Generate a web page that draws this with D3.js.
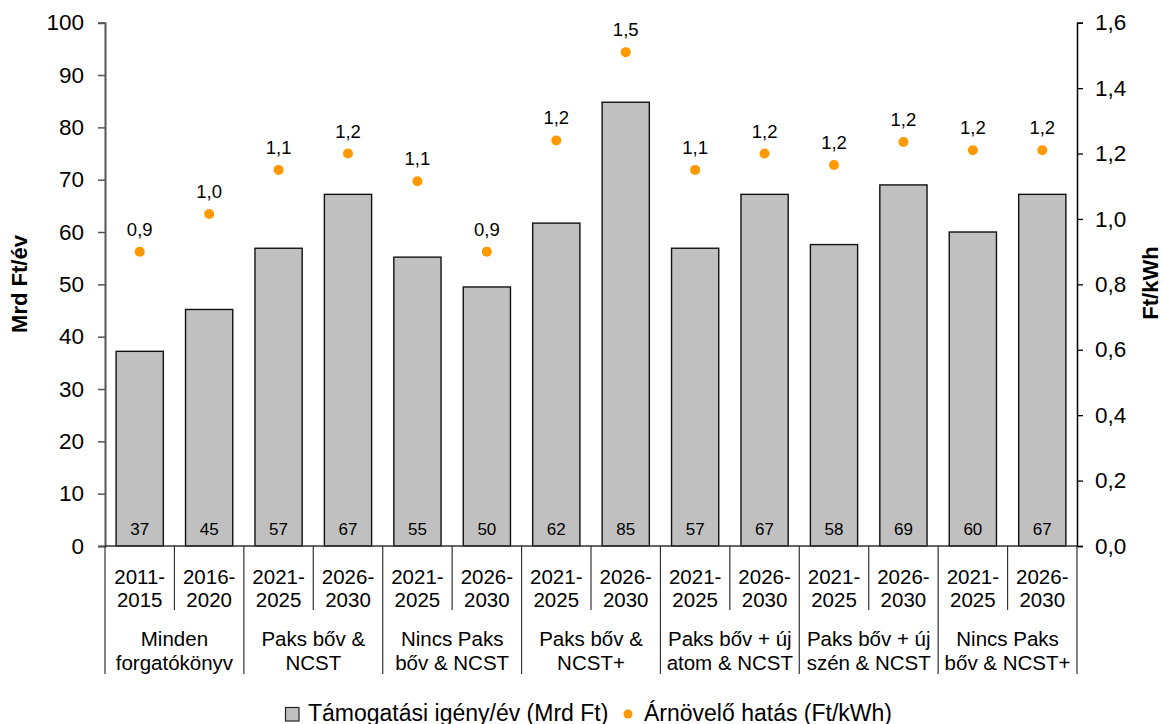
<!DOCTYPE html>
<html><head><meta charset="utf-8">
<script src="https://cdn.jsdelivr.net/npm/d3@7"></script>
<style>body{margin:0;background:#fff}svg{display:block;font-family:"Liberation Sans",Arial,sans-serif}</style>
</head><body><svg id="c" width="1162" height="724"></svg>
<script>
const periods = ["2011-|2015","2016-|2020","2021-|2025","2026-|2030","2021-|2025","2026-|2030","2021-|2025","2026-|2030","2021-|2025","2026-|2030","2021-|2025","2026-|2030","2021-|2025","2026-|2030"];
const groups = ["Minden|forgatókönyv","Paks bőv &|NCST","Nincs Paks|bőv & NCST","Paks bőv &|NCST+","Paks bőv + új|atom & NCST","Paks bőv + új|szén & NCST","Nincs Paks|bőv & NCST+"];
const support = [37.2,45.2,56.9,67.2,55.2,49.5,61.7,84.8,56.9,67.2,57.6,69.0,60.0,67.2];
const supportLabels = ["37","45","57","67","55","50","62","85","57","67","58","69","60","67"];
const priceEffect = [0.90,1.015,1.15,1.20,1.115,0.90,1.24,1.51,1.15,1.20,1.165,1.235,1.21,1.21];
const priceLabels = ["0,9","1,0","1,1","1,2","1,1","0,9","1,2","1,5","1,1","1,2","1,2","1,2","1,2","1,2"];
const leftTicks = [0,10,20,30,40,50,60,70,80,90,100];
const rightTicks = [0,0.2,0.4,0.6,0.8,1.0,1.2,1.4,1.6];
const seriesNames = ["Támogatási igény/év (Mrd Ft)","Árnövelő hatás (Ft/kWh)"];
const axisTitles = ["Mrd Ft/év","Ft/kWh"];

const svg = d3.select("#c");
const L=105, R=1077, T=22.7, B=546;
const idx = d3.range(periods.length);
const x = d3.scaleBand().domain(idx).range([L,R]).paddingInner(0.32).paddingOuter(0.16);
const y = d3.scaleLinear().domain([0,100]).range([B,T]);
const y2 = d3.scaleLinear().domain([0,1.6]).range([B,T]);
const step = x.step();
const FF = "Liberation Sans, Arial, sans-serif";

// bars
svg.append("g").selectAll("rect").data(support).join("rect")
  .attr("x",(d,i)=>x(i)).attr("y",d=>y(d)).attr("width",x.bandwidth()).attr("height",d=>B-y(d))
  .attr("fill","#c0c0c0").attr("stroke","#111").attr("stroke-width",1.4);
svg.append("g").selectAll("text").data(supportLabels).join("text")
  .attr("x",(d,i)=>x(i)+x.bandwidth()/2).attr("y",535).attr("text-anchor","middle")
  .attr("font-size",17).attr("fill","#000").text(d=>d);

// left axis
const la = svg.append("g").attr("transform",`translate(${L},0)`)
  .call(d3.axisLeft(y).tickValues(leftTicks).tickSize(7).tickPadding(14).tickFormat(d3.format("d")));
la.select(".domain").attr("stroke","#555").attr("stroke-width",2);
la.selectAll(".tick line").attr("stroke","#555").attr("stroke-width",1.5);
la.selectAll("text").attr("font-size",22.5).attr("fill","#000").attr("font-family",FF);

// right axis
const ra = svg.append("g").attr("transform",`translate(${R},0)`)
  .call(d3.axisRight(y2).tickValues(rightTicks).tickSize(6).tickPadding(12).tickFormat(d=>d3.format(".1f")(d).replace(".",",")));
ra.select(".domain").attr("stroke","#000").attr("stroke-width",1.5);
ra.selectAll(".tick line").attr("stroke","#000").attr("stroke-width",1.3);
ra.selectAll("text").attr("font-size",22.5).attr("fill","#000").attr("font-family",FF);

// baseline
svg.append("line").attr("x1",L).attr("x2",R).attr("y1",B).attr("y2",B).attr("stroke","#333").attr("stroke-width",1.5);

// category separators
const bounds = d3.range(periods.length+1);
svg.append("g").selectAll("line").data(bounds).join("line")
  .attr("x1",i=>L+i*step).attr("x2",i=>L+i*step).attr("y1",B)
  .attr("y2",i=> i%2===0 ? 674 : 610).attr("stroke","#333").attr("stroke-width",1.2);

// period labels
const pl = svg.append("g").selectAll("text").data(periods).join("text")
  .attr("x",(d,i)=>x(i)+x.bandwidth()/2).attr("text-anchor","middle").attr("font-size",20.5).attr("fill","#000");
pl.each(function(d){const s=d3.select(this);d.split("|").forEach((t,k)=>s.append("tspan").attr("x",s.attr("x")).attr("y",583.5+k*23.5).text(t));});

// group labels
const gl = svg.append("g").selectAll("text").data(groups).join("text")
  .attr("x",(d,i)=>L+(2*i+1)*step).attr("text-anchor","middle").attr("font-size",20.5).attr("fill","#000");
gl.each(function(d){const s=d3.select(this);d.split("|").forEach((t,k)=>s.append("tspan").attr("x",s.attr("x")).attr("y",646+k*24).text(t));});

// dots
svg.append("g").selectAll("circle").data(priceEffect).join("circle")
  .attr("cx",(d,i)=>x(i)+x.bandwidth()/2).attr("cy",d=>y2(d)).attr("r",5).attr("fill","#ff9900");
svg.append("g").selectAll("text").data(priceLabels).join("text")
  .attr("x",(d,i)=>x(i)+x.bandwidth()/2).attr("y",(d,i)=>y2(priceEffect[i])-16).attr("text-anchor","middle")
  .attr("font-size",18.5).attr("fill","#000").text(d=>d);

// axis titles
svg.append("text").attr("transform","translate(27,284) rotate(-90)").attr("text-anchor","middle")
  .attr("font-size",22).attr("font-weight","bold").text(axisTitles[0]);
svg.append("text").attr("transform","translate(1158,283) rotate(-90)").attr("text-anchor","middle")
  .attr("font-size",22).attr("font-weight","bold").text(axisTitles[1]);

// legend
const lg = svg.append("g");
lg.append("rect").attr("x",285.5).attr("y",707.5).attr("width",13.5).attr("height",13.5).attr("fill","#c0c0c0").attr("stroke","#222").attr("stroke-width",1.2);
lg.append("text").attr("x",308).attr("y",721).attr("font-size",23).text(seriesNames[0]);
lg.append("circle").attr("cx",628).attr("cy",714).attr("r",4.5).attr("fill","#ff9900");
lg.append("text").attr("x",644).attr("y",721).attr("font-size",23).text(seriesNames[1]);
</script></body></html>
